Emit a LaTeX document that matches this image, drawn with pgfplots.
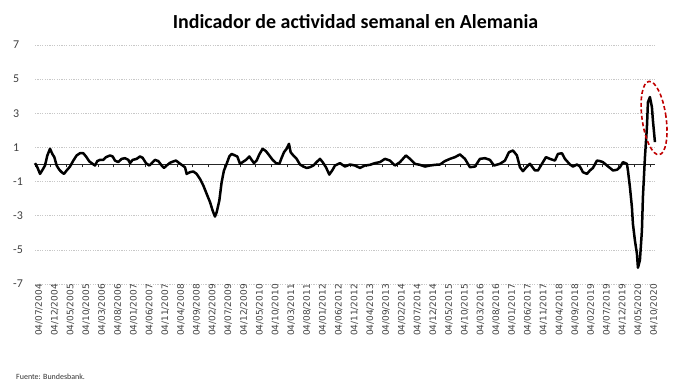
\documentclass[border=0pt]{standalone}
\usepackage{fontspec}
\setmainfont{Carlito}
\newfontfamily\dejavu{DejaVu Sans}
\usepackage{pgfplots}
\pgfplotsset{compat=1.18}
\definecolor{gridgray}{HTML}{C8C8C8}
\definecolor{ticktext}{HTML}{404040}
\definecolor{ellred}{HTML}{C00000}

\begin{document}
\begin{tikzpicture}
\path[use as bounding box] (-35bp,-104bp) rectangle (640bp,284bp);
% zero line with tick marks
\begin{axis}[at={(0,0)},anchor=south west,scale only axis,
  width=620bp,height=239bp,
  xmin=0,xmax=196.6,ymin=-7,ymax=7,
  axis x line=middle, axis y line=none,
  xtick={0,5,...,195}, xticklabels={},
  major tick length=3bp, tick align=outside,
  x axis line style={-},
  every inner x axis line/.append style={line width=0.9bp, black!85},
  tick style={line width=0.7bp, black!85}]
\addplot[draw=none] coordinates {(0,0)};
\end{axis}
% main axis
\begin{axis}[at={(0,0)},anchor=south west,scale only axis,
  width=620bp,height=239bp,
  xmin=0,xmax=196.6,ymin=-7,ymax=7,
  clip=false,
  axis line style={draw=none},
  major tick length=0pt,
  xtick={0,5,...,195},
  xticklabels={04/07/2004,04/12/2004,04/05/2005,04/10/2005,04/03/2006,04/08/2006,04/01/2007,04/06/2007,04/11/2007,04/04/2008,04/09/2008,04/02/2009,04/07/2009,04/12/2009,04/05/2010,04/10/2010,04/03/2011,04/08/2011,04/01/2012,04/06/2012,04/11/2012,04/04/2013,04/09/2013,04/02/2014,04/07/2014,04/12/2014,04/05/2015,04/10/2015,04/03/2016,04/08/2016,04/01/2017,04/06/2017,04/11/2017,04/04/2018,04/09/2018,04/02/2019,04/07/2019,04/12/2019,04/05/2020,04/10/2020},
  ytick={-7,-5,...,7},
  yticklabels={-7,-5,-3,-1,1,3,5,7},
  ymajorgrids,
  grid style={gridgray, dash pattern=on 1.2bp off 1.2bp, line width=0.6bp},
  xticklabel style={font=\dejavu\fontsize{9}{9}\selectfont, text=ticktext, rotate=90, anchor=east, inner sep=0pt, yshift=-4bp},
  yticklabel style={font=\fontsize{12}{12}\selectfont, text=ticktext, anchor=west, inner sep=0pt, xshift=-22bp}]
\addplot[black, line width=2.5bp, line join=round] coordinates {
(0,0.08) (0.74,-0.16) (1.59,-0.55) (2.43,-0.30) (3.17,-0.06) (3.91,0.53) (4.76,0.92) (5.49,0.62) (6.13,0.43) (6.87,-0.06) (7.71,-0.31) (8.46,-0.45) (9.19,-0.55) (10.04,-0.35) (11.10,-0.12) (12.15,0.23) (13.21,0.53) (14.27,0.66) (15.32,0.66) (16.17,0.47) (17.23,0.18) (18.28,0.04) (19.02,-0.06) (19.76,0.20) (20.61,0.27) (21.66,0.27) (22.51,0.43) (23.78,0.53) (24.63,0.47) (25.36,0.23) (26.42,0.14) (27.48,0.33) (28.54,0.37) (29.59,0.27) (30.12,0.08) (30.97,0.27) (32.23,0.33) (33.29,0.47) (34.14,0.39) (35.19,0.08) (36.25,-0.06) (37.31,0.14) (38.05,0.27) (39.10,0.20) (40.16,-0.06) (40.90,-0.20) (41.75,-0.06) (42.80,0.10) (43.86,0.18) (44.71,0.23) (45.76,0.08) (46.82,-0.06) (47.56,-0.16) (48.09,-0.55) (49.14,-0.45) (50.20,-0.41) (51.26,-0.55) (52.31,-0.84) (53.37,-1.23) (54.43,-1.72) (55.49,-2.20) (56.33,-2.70) (57.07,-3.05) (57.60,-2.80) (58.45,-2.11) (59.18,-1.04) (59.92,-0.35) (60.77,0.04) (61.61,0.47) (62.35,0.62) (63.41,0.53) (64.15,0.47) (65.00,0.04) (65.84,0.14) (66.90,0.27) (67.96,0.47) (68.70,0.27) (69.44,0.08) (70.28,0.23) (71.13,0.59) (72.18,0.92) (73.24,0.78) (74.30,0.53) (75.35,0.27) (76.41,0.08) (77.47,0.04) (78.21,0.39) (78.95,0.72) (79.79,0.92) (80.53,1.21) (81.06,0.72) (81.91,0.53) (82.96,0.33) (84.02,0.00) (85.08,-0.12) (86.13,-0.20) (87.19,-0.16) (88.25,-0.06) (89.30,0.14) (90.36,0.33) (91.21,0.14) (92.26,-0.16) (93.32,-0.59) (94.38,-0.31) (95.12,-0.06) (96.70,0.08) (98.29,-0.12) (99.87,0.00) (101.46,-0.06) (103.04,-0.20) (104.63,-0.06) (106.21,-0.02) (107.80,0.08) (109.39,0.14) (110.97,0.33) (112.56,0.23) (114.14,-0.06) (115.73,0.14) (117.63,0.53) (118.90,0.33) (120.48,0.04) (122.07,-0.02) (123.65,-0.12) (125.24,-0.06) (126.82,-0.02) (128.41,0.00) (129.99,0.20) (131.58,0.33) (133.16,0.43) (134.75,0.59) (136.33,0.33) (137.92,-0.16) (139.51,-0.12) (141.09,0.33) (142.68,0.37) (144.26,0.27) (145.53,-0.06) (147.43,0.04) (149.02,0.23) (150.29,0.72) (151.55,0.82) (152.82,0.53) (153.77,-0.16) (154.72,-0.39) (155.99,-0.12) (156.94,0.04) (158.53,-0.35) (159.48,-0.35) (160.75,0.04) (162.02,0.43) (163.28,0.33) (164.87,0.23) (165.82,0.62) (167.09,0.66) (168.04,0.33) (169.63,0.00) (170.58,-0.12) (171.85,0.00) (172.80,-0.12) (173.75,-0.45) (175.02,-0.55) (175.97,-0.35) (176.92,-0.20) (178.19,0.23) (179.14,0.20) (180.09,0.14) (181.36,-0.06) (182.31,-0.20) (183.26,-0.35) (184.53,-0.31) (185.48,-0.16) (186.43,0.14) (187.70,0.04) (188.02,-0.35) (188.65,-1.33) (189.28,-2.50) (189.60,-3.48) (190.23,-4.45) (190.87,-5.23) (191.19,-6.05) (191.82,-5.60) (192.45,-3.87) (192.77,-1.90) (193.41,0.43) (194.04,2.19) (194.36,3.65) (194.99,3.95) (195.62,3.36) (195.94,2.58) (196.58,1.31)
};
\draw[ellred, line width=1.6bp, dash pattern=on 4bp off 2.5bp, rotate around={8:(axis cs:196.3,2.72)}] (axis cs:196.3,2.72) ellipse [x radius=12bp, y radius=37bp];
\end{axis}
\node[font=\bfseries\fontsize{20}{20}\selectfont, anchor=base] at (320.5bp,255bp) {Indicador de actividad semanal en Alemania};
\node[font=\fontsize{8}{8}\selectfont, anchor=base west, inner sep=0pt, text=black!80] at (-19bp,-95bp) {Fuente: Bundesbank.};
\end{tikzpicture}
\end{document}
